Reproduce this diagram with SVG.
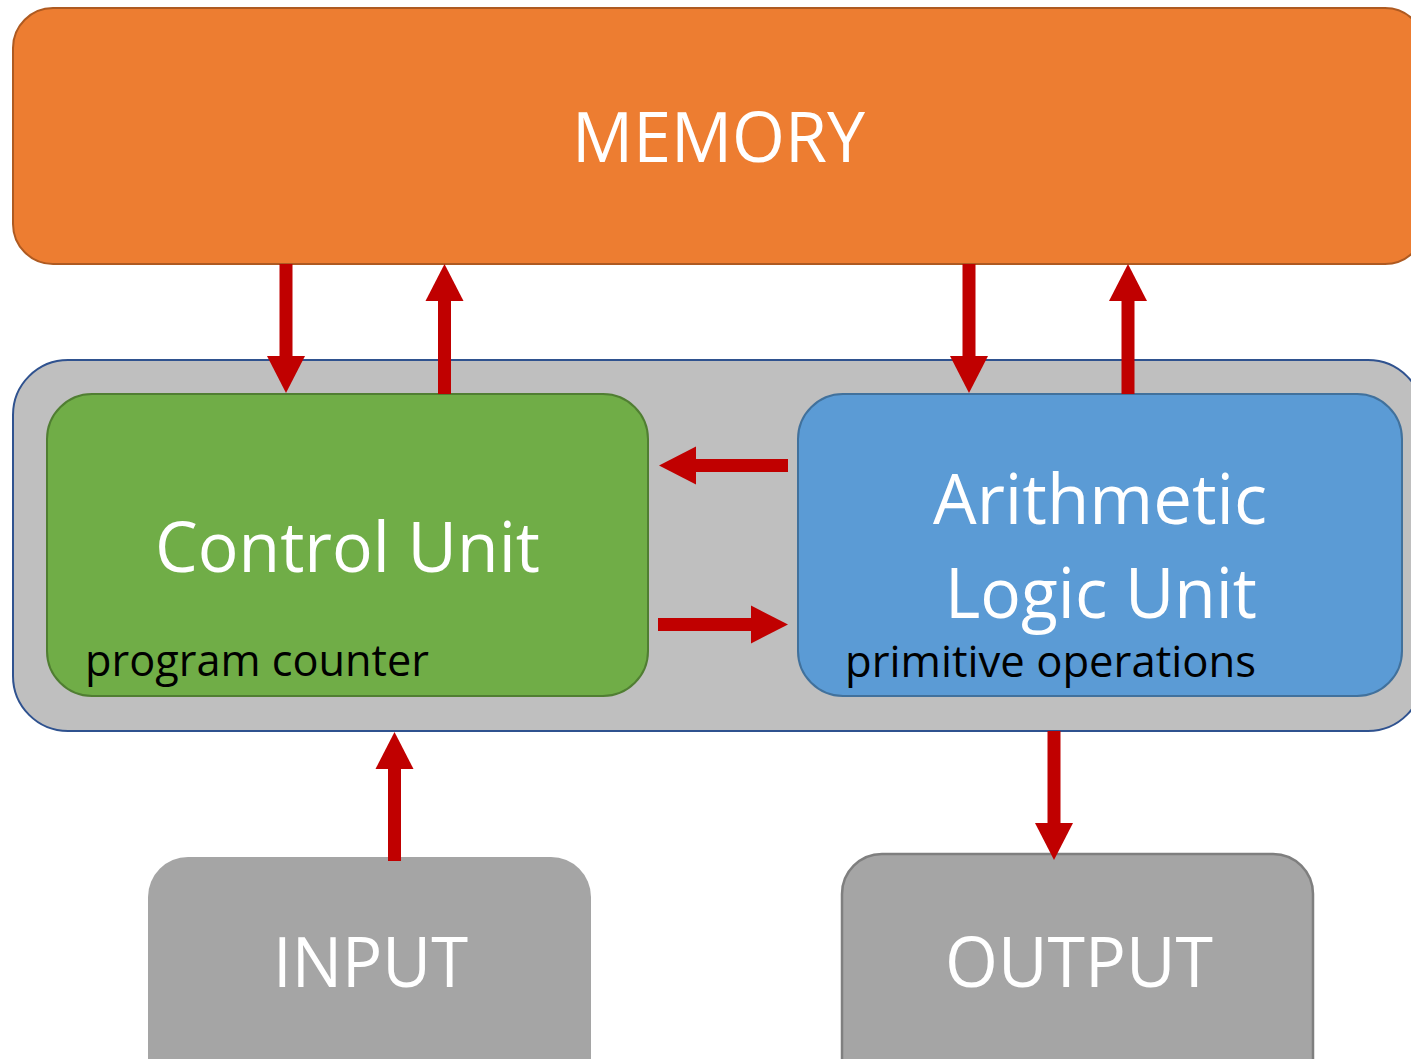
<svg xmlns="http://www.w3.org/2000/svg" width="1411" height="1059" viewBox="0 0 1411 1059">
  <defs>
    <style>
      .lbl { font-family: "Open Sans", "Noto Sans", "Liberation Sans", sans-serif; fill: #ffffff; font-size: 70px; }
      .sub { font-family: "Open Sans", "Noto Sans", "Liberation Sans", sans-serif; fill: #000000; font-size: 44px; }
      .wire { stroke: #c00000; stroke-width: 13; fill: none; marker-end: url(#head); }
    </style>
    <marker id="head" markerUnits="userSpaceOnUse" markerWidth="37" markerHeight="38" refX="0" refY="19" orient="auto" overflow="visible">
      <path d="M0,0 L37,19 L0,38 Z" fill="#c00000"/>
    </marker>
  </defs>

  <rect width="1411" height="1059" fill="#ffffff"/>

  <!-- Memory -->
  <g id="memory">
    <rect x="13" y="8" width="1412" height="256" rx="40" ry="40" fill="#ed7d31" stroke="#ae5a21" stroke-width="2"/>
    <text class="lbl" x="572" y="162" textLength="293" lengthAdjust="spacingAndGlyphs">MEMORY</text>
  </g>

  <!-- CPU enclosure -->
  <g id="cpu">
    <rect x="13" y="360" width="1410" height="371" rx="55" ry="55" fill="#bfbfbf" stroke="#2f528f" stroke-width="2"/>
  </g>

  <!-- Control unit -->
  <g id="control-unit">
    <rect x="47" y="394" width="601" height="302" rx="45" ry="45" fill="#70ad47" stroke="#507e32" stroke-width="2"/>
    <text class="lbl" x="155" y="572" textLength="385" lengthAdjust="spacingAndGlyphs">Control Unit</text>
    <text class="sub" x="85" y="676" textLength="344" lengthAdjust="spacingAndGlyphs">program counter</text>
  </g>

  <!-- Arithmetic logic unit -->
  <g id="alu">
    <rect x="798" y="394" width="604" height="302" rx="45" ry="45" fill="#5b9bd5" stroke="#41719c" stroke-width="2"/>
    <text class="lbl" x="933" y="524" textLength="334" lengthAdjust="spacingAndGlyphs">Arithmetic</text>
    <text class="lbl" x="945" y="618" textLength="312" lengthAdjust="spacingAndGlyphs">Logic Unit</text>
    <text class="sub" x="845" y="677" textLength="411" lengthAdjust="spacingAndGlyphs">primitive operations</text>
  </g>

  <!-- Input -->
  <g id="input">
    <rect x="148" y="857" width="443" height="260" rx="40" ry="40" fill="#a5a5a5"/>
    <text class="lbl" x="273" y="987" textLength="195" lengthAdjust="spacingAndGlyphs">INPUT</text>
  </g>

  <!-- Output -->
  <g id="output">
    <rect x="842" y="854" width="471" height="260" rx="40" ry="40" fill="#a5a5a5" stroke="#7f7f7f" stroke-width="2.5"/>
    <text class="lbl" x="945" y="987" textLength="268" lengthAdjust="spacingAndGlyphs">OUTPUT</text>
  </g>

  <!-- Data paths -->
  <g id="connectors">
    <path class="wire" d="M286,264 L286,356"/>
    <path class="wire" d="M444.5,394 L444.5,301"/>
    <path class="wire" d="M969,264 L969,356"/>
    <path class="wire" d="M1128,394 L1128,301"/>
    <path class="wire" d="M788,465.5 L696,465.5"/>
    <path class="wire" d="M658,624.5 L751,624.5"/>
    <path class="wire" d="M394.5,861 L394.5,769"/>
    <path class="wire" d="M1054,731 L1054,823"/>
  </g>
</svg>
